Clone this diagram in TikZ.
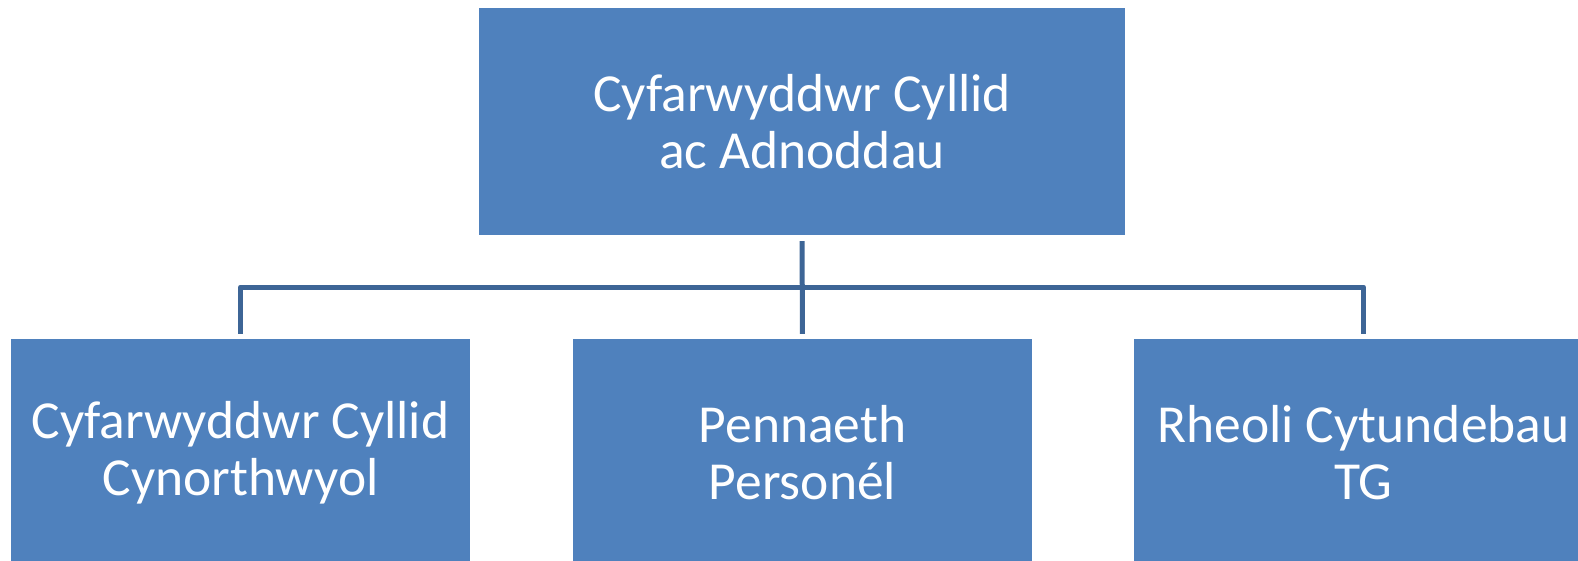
\documentclass[tikz,border=0pt]{standalone}
\usepackage{fontspec}
\setmainfont{Carlito}
\definecolor{boxblue}{HTML}{4F81BD}
\definecolor{linkblue}{HTML}{3D6596}
\begin{document}
\begin{tikzpicture}[x=1pt,y=-1pt,
  orgbox/.style={fill=boxblue, draw=none, inner sep=0pt, minimum width=459pt, minimum height=227pt,
    text=white, align=center, font=\fontsize{53.5}{57}\selectfont},
  conn/.style={draw=linkblue, line width=5pt, line join=round}]
\useasboundingbox (0,0) rectangle (1578,560);
\clip (0,0) rectangle (1578,560);
\node[orgbox, minimum width=646pt] (top) at (802,121.5) {Cyfarwyddwr Cyllid\\ac Adnoddau};
\node[orgbox] (left) at (240.5,452.5) {Cyfarwyddwr Cyllid\\Cynorthwyol};
\node[orgbox] (mid) at (802.5,452.5) {Pennaeth\\Personél};
\node[orgbox] (right) at (1363.5,452.5) {Rheoli Cytundebau\\TG};
\coordinate (bus) at (802,287);
\draw[conn, shorten <=6pt, shorten >=5pt] (top.south) -- (mid.north);
\draw[conn, shorten <=5pt, shorten >=5pt] (left.north) -- (left.north |- bus) -- (right.north |- bus) -- (right.north);
\end{tikzpicture}
\end{document}
